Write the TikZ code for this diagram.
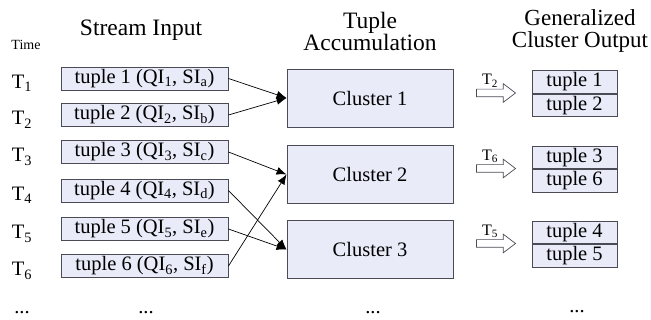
\documentclass[tikz,border=0pt]{standalone}
\usepackage{fontspec}
\setmainfont{Liberation Serif}
\usetikzlibrary{arrows.meta,shapes.arrows}

\definecolor{boxfill}{RGB}{233,235,248}
\definecolor{boxline}{RGB}{75,75,85}

\tikzset{
	body/.style={font=\fontsize{20.5}{22}\selectfont},
	tuplebox/.style={body,draw=boxline,fill=boxfill,line width=0.9pt,
		minimum width=167pt,minimum height=23pt,inner sep=0pt},
	clusterbox/.style={tuplebox,minimum width=166pt,minimum height=58pt},
	outbox/.style={tuplebox,minimum width=85pt,minimum height=22.5pt},
	heading/.style={font=\fontsize{23.5}{22}\selectfont,align=center},
	feed/.style={-{Latex[length=10pt,width=8pt]},line width=0.7pt},
	blockarrow/.style={single arrow,draw=boxline,fill=white,line width=0.7pt,
		minimum height=39pt,inner xsep=0pt,inner ysep=3.5pt,
		single arrow head extend=5.5pt,single arrow tip angle=74}
}

\begin{document}
\begin{tikzpicture}[x=1pt,y=-1pt]
		\useasboundingbox (0,0) rectangle (651,320);
		
		% headings
		\node[font=\fontsize{14}{16}\selectfont] (time) at (26,45) {Time};
		\node[heading] (hin) at (141,30) {Stream Input};
		\node[heading] (hacc) at (370,31) {Tuple\\Accumulation};
		\node[heading,font=\fontsize{23}{22}\selectfont] (hout) at (580,31) {Generalized\\Cluster Output};
		
		% stream input
		\foreach \i/\y/\s in {1/78.5/a,2/115/b,3/152/c,4/190.5/d,5/229/e,6/266/f}
		{
			\node[tuplebox] (t\i) at (144.5,\y) {tuple \i\ (QI\textsubscript{\i}, SI\textsubscript{\s})};
			\node[body,anchor=base] (T\i) at (22,\y+10) {T\textsubscript{\i}};
		}
		
		% clusters
		\foreach \k/\y in {1/98,2/174.5,3/249.5}
		\node[clusterbox] (c\k) at (370,\y) {Cluster \k};
		
		\draw[feed] (t1.east) -- (c1.west);
		\draw[feed] (t2.east) -- (c1.west);
		\draw[feed] (t3.east) -- (c2.west);
		\draw[feed] (t6.east) -- (c2.west);
		\draw[feed] (t4.east) -- (c3.west);
		\draw[feed] (t5.east) -- (c3.west);
		
		% generalized output
		\foreach \k/\y/\p/\q/\tt in {1/82/1/2/2,2/157.5/3/6/6,3/232.5/4/5/5}
		{
			\node[blockarrow] (a\k) at (493.5,\y+11) {};
			\node[font=\fontsize{16}{18}\selectfont] (l\k) at (490,\y-1) {T\textsubscript{\tt}};
			\node[outbox] (o\k a) at (574.5,\y) {tuple \p};
			\node[outbox,anchor=north] (o\k b) at (o\k a.south) {tuple \q};
		}
		
		% more to come
		\node[body,anchor=base] (d1) at (22,314) {...};
		\node[body,anchor=base] (d2) at (146,314) {...};
		\node[body,anchor=base] (d3) at (373,314) {...};
		\node[body,anchor=base] (d4) at (577,313) {...};
	\end{tikzpicture}
\end{document}
